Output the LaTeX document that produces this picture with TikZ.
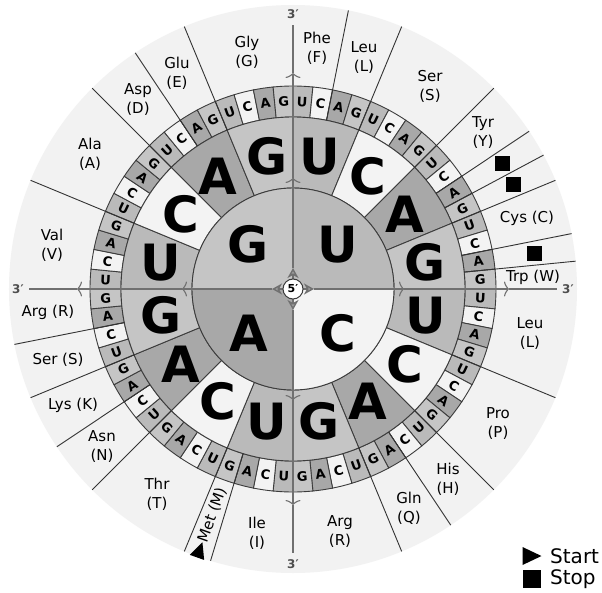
\documentclass[tikz,border=0pt]{standalone}
\usepackage{fontspec}
\setmainfont{DejaVu Sans}
\usetikzlibrary{arrows.meta}
\definecolor{colU}{RGB}{186,186,186}
\definecolor{colC}{RGB}{243,243,243}
\definecolor{colA}{RGB}{168,168,168}
\definecolor{colG}{RGB}{197,197,197}
\definecolor{disc}{RGB}{242,242,242}
\definecolor{rim}{RGB}{60,60,60}
\definecolor{axisgray}{RGB}{112,112,112}

\begin{document}
\begin{tikzpicture}[x=1pt, y=1pt,
    aa/.style={align=center, font=\fontsize{15}{19}\selectfont, inner sep=0pt},
    bigbase/.style={font=\fontsize{50}{50}\selectfont\bfseries, inner sep=0pt},
    codon/.style={font=\fontsize{13}{13}\selectfont\bfseries, inner sep=0pt},
    prime/.style={font=\fontsize{12}{12}\selectfont\bfseries, text=axisgray!70!black, inner sep=0pt},
    legend/.style={font=\fontsize{20}{20}\selectfont, inner sep=0pt},
    stopbox/.style={fill=black, minimum size=15pt, inner sep=0pt},
    startmark/.pic={\fill[black] (-9.5,-9) -- (9.5,0) -- (-9.5,9) -- cycle;},
    rimline/.style={draw=rim, line width=0.9pt},
    aaline/.style={draw=black!80, line width=0.9pt},
    axline/.style={draw=axisgray, line width=1.4pt},
    barb/.style={-{Classical TikZ Rightarrow[length=5pt,width=15pt]}}]
  \fill[white] (-293,-303) rectangle (309,289);
  \useasboundingbox (-293,-303) rectangle (309,289);
  \fill[disc] (0,0) circle[radius=284];
  % third base
  \foreach \b [count=\i from 0] in {U,C,A,G}
    \foreach \c [count=\j from 0] in {U,C,A,G}
      \foreach \d [count=\k from 0] in {U,C,A,G} {
        \pgfmathsetmacro\sa{90-90*\i-22.5*\j-5.625*\k}
        \pgfmathsetmacro\ea{\sa-5.625}
        \pgfmathsetmacro\ma{\sa-2.8125}
        \pgfmathsetmacro\rot{mod(\ma-45+720,90)-45}
        \filldraw[rimline, fill=col\d] (\sa:172) arc[start angle=\sa, end angle=\ea, radius=172]
          -- (\ea:203) arc[start angle=\ea, end angle=\sa, radius=203] -- cycle;
        \node[codon, rotate=\rot] at (\ma:187.5) {\d};
      }
  % second base
  \foreach \b [count=\i from 0] in {U,C,A,G}
    \foreach \c [count=\j from 0] in {U,C,A,G} {
      \pgfmathsetmacro\sa{90-90*\i-22.5*\j}
      \pgfmathsetmacro\ea{\sa-22.5}
      \pgfmathsetmacro\ma{\sa-11.25}
      \filldraw[rimline, fill=col\c] (\sa:101) arc[start angle=\sa, end angle=\ea, radius=101]
        -- (\ea:172) arc[start angle=\ea, end angle=\sa, radius=172] -- cycle;
      \node[bigbase] at (\ma:135) {\c};
    }
  % first base
  \foreach \b [count=\i from 0] in {U,C,A,G} {
    \pgfmathsetmacro\sa{90-90*\i}
    \pgfmathsetmacro\ea{\sa-90}
    \pgfmathsetmacro\ma{\sa-45}
    \fill[col\b] (0,0) -- (\sa:101) arc[start angle=\sa, end angle=\ea, radius=101] -- cycle;
    \node[bigbase] at (\ma:63) {\b};
  }
  \draw[rimline] (0,0) circle[radius=101];
  \foreach \a in {78.75, 67.5, 45, 33.75, 28.125, 22.5, 11.25, 5.625, -22.5, -45, -56.25, -67.5,
                  -106.875, -112.5, -135, -146.25, -157.5, -168.75, 157.5, 135, 123.75, 112.5}
    \draw[aaline] (\a:172) -- (\a:284);
  \foreach \a/\n in {90/top, 0/right, -90/bottom, 180/left} {
    \draw[axline, -{Stealth[length=10pt, width=11pt, inset=3pt, fill=axisgray!70]}] (\a:10) -- (\a:21);
    \draw[axline, barb] (\a:21) -- (\a:111);
    \draw[axline, barb] (\a:111) -- (\a:216);
    \draw[axline] (\a:216) -- (\a:264);
    \node[prime] (end\n) at (\a:275) {3′};
  }
  \node[circle, draw=rim, fill=white, line width=1pt, minimum size=20pt, inner sep=0pt,
        font=\fontsize{11}{11}\selectfont\bfseries] (five) at (0,0) {5′};

  \node[aa] (gly) at (-46,237) {Gly\\(G)};
  \node[aa] (phe) at (24,241) {Phe\\(F)};
  \node[aa] (leutop) at (71,231) {Leu\\(L)};
  \node[aa] (sertop) at (137,203) {Ser\\(S)};
  \node[aa] (tyr) at (190,156) {Tyr\\(Y)};
  \node[aa] (cys) at (234,71) {Cys (C)};
  \node[aa] (trp) at (240,12) {Trp (W)};
  \node[aa] (leuright) at (237,-45) {Leu\\(L)};
  \node[aa] (pro) at (205,-135) {Pro\\(P)};
  \node[aa] (his) at (155,-190) {His\\(H)};
  \node[aa] (gln) at (116,-219) {Gln\\(Q)};
  \node[aa] (argbottom) at (47,-243) {Arg\\(R)};
  \node[aa] (ile) at (-36,-244) {Ile\\(I)};
  \node[aa, rotate=70.3125] (met) at (-109.6875:240) {Met (M)};
  \node[aa] (thr) at (-136,-205) {Thr\\(T)};
  \node[aa] (asn) at (-191,-158) {Asn\\(N)};
  \node[aa] (lys) at (-220,-116) {Lys (K)};
  \node[aa] (serleft) at (-235,-71) {Ser (S)};
  \node[aa] (argleft) at (-245,-23) {Arg (R)};
  \node[aa] (val) at (-241,44) {Val\\(V)};
  \node[aa] (ala) at (-203,135) {Ala\\(A)};
  \node[aa] (asp) at (-155,189) {Asp\\(D)};
  \node[aa] (glu) at (-116,216) {Glu\\(E)};

  \node[stopbox] (uaa) at (30.9375:244) {};
  \node[stopbox] (uag) at (25.3125:244) {};
  \node[stopbox] (uga) at (8.4375:244) {};
  \pic[rotate=70.3125, scale=0.85] at (-109.6875:277) {startmark};

  \pic at (239,-267) {startmark};
  \node[legend, anchor=base west] (starttxt) at (257,-274) {Start};
  \node[stopbox, minimum size=18pt] (stopicon) at (239,-290) {};
  \node[legend, anchor=base west] (stoptxt) at (257,-295) {Stop};
\end{tikzpicture}
\end{document}
